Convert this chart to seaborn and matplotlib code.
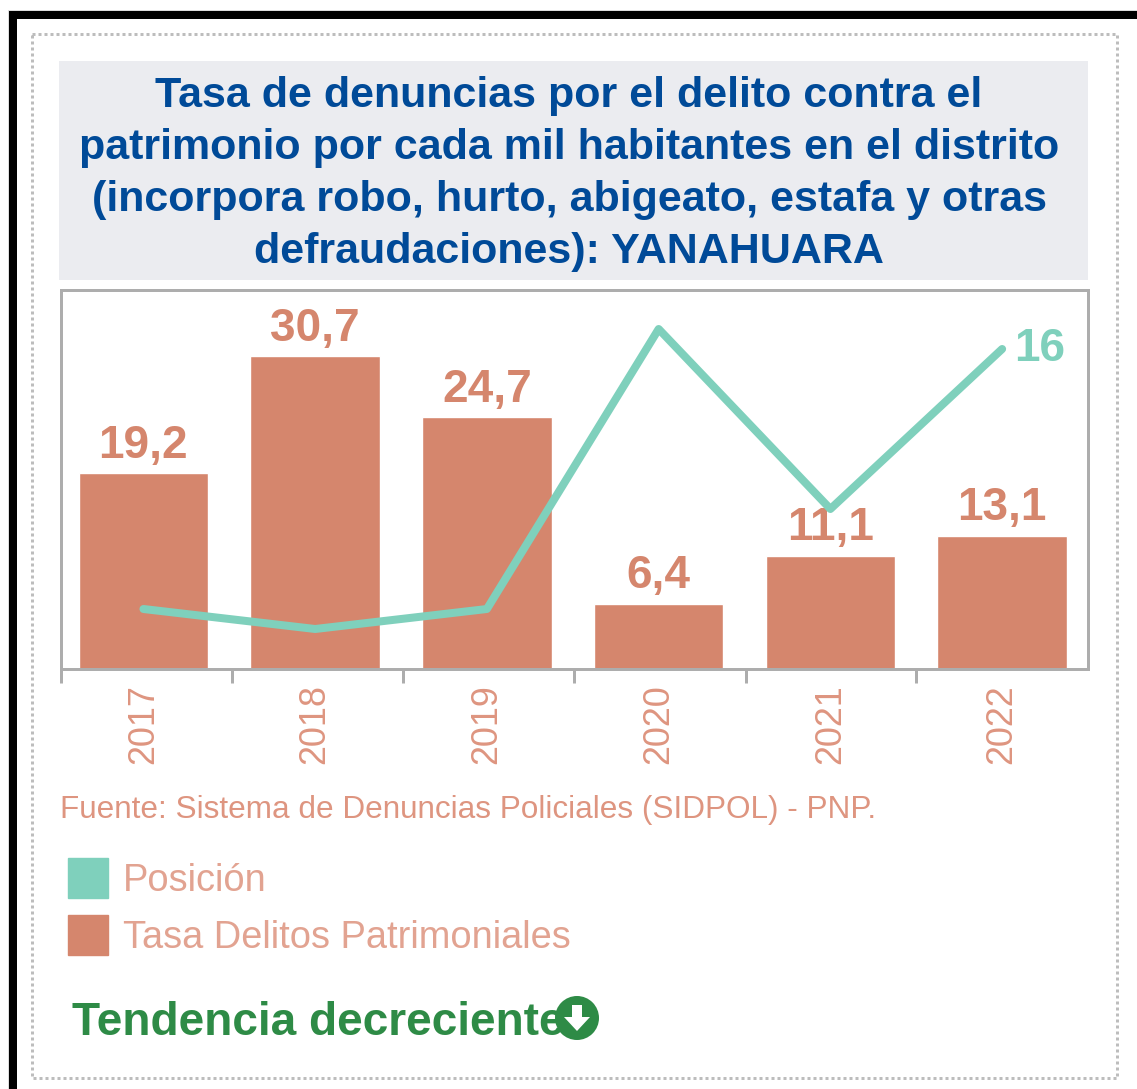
import matplotlib
matplotlib.use('Agg')
import matplotlib.pyplot as plt
from matplotlib.patches import Rectangle, Circle, Patch, Polygon
import seaborn as sns
import pandas as pd
import numpy as np

# Datos
years = ['2017', '2018', '2019', '2020', '2021', '2022']
tasa = [19.2, 30.7, 24.7, 6.4, 11.1, 13.1]
tasa_labels = ['19,2', '30,7', '24,7', '6,4', '11,1', '13,1']
posicion = [3, 2, 3, 17, 8, 16]

title_text = ('Tasa de denuncias por el delito contra el\n'
              'patrimonio por cada mil habitantes en el distrito\n'
              '(incorpora robo, hurto, abigeato, estafa y otras\n'
              'defraudaciones): YANAHUARA')
source_text = 'Fuente: Sistema de Denuncias Policiales (SIDPOL) - PNP.'
trend_text = 'Tendencia decreciente'
legend_labels = ['Posición', 'Tasa Delitos Patrimoniales']

BAR = '#D5866D'
LINE = '#7FD0BC'
LABEL = '#DE9580'
BLUE = '#004A98'
GREEN = '#2E8B46'
GRAY = '#ADADAD'

W, H = 1137, 1089
PX = 0.72  # puntos por pixel con dpi=100

sns.set_style('white')
plt.rcParams['font.family'] = ['Liberation Sans', 'DejaVu Sans']

fig = plt.figure(figsize=(W / 100, H / 100), dpi=100, facecolor='white')

# Capa de fondo en pixeles: marcos, titulo y textos sueltos
bg = fig.add_axes([0, 0, 1, 1], zorder=0)
bg.set_xlim(0, W)
bg.set_ylim(H, 0)
bg.axis('off')
bg.add_patch(Rectangle((8, 10), W, H, fc='none', ec='#DDDDDD', lw=1 * PX))
bg.add_patch(Rectangle((9, 11), 8, H, fc='black', ec='none'))
bg.add_patch(Rectangle((9, 11), W, 8, fc='black', ec='none'))
bg.add_patch(Rectangle((31.5, 33.5), 1085, 1044, fc='none', ec='#BDBDBD',
                       lw=3 * PX, ls=(0, (1, 1))))
bg.add_patch(Rectangle((59, 61), 1029, 219, fc='#EBECF0', ec='none'))
bg.text(569, 174, title_text, ha='center', va='center', color=BLUE,
        fontsize=43 * PX, fontweight='bold', linespacing=1.38)
bg.text(60, 818, source_text, ha='left', va='baseline', color=LABEL,
        fontsize=31.5 * PX)
bg.text(72, 1035, trend_text, ha='left', va='baseline', color=GREEN,
        fontsize=46 * PX, fontweight='bold')
bg.add_patch(Circle((577, 1018), 22, fc=GREEN, ec='none', zorder=3))
bg.add_patch(Polygon([(572, 1005), (582, 1005), (582, 1017), (590, 1017),
                      (577, 1031), (564, 1017), (572, 1017)],
                     fc='white', ec='none', zorder=4))

# Grafico principal
left, right, top, bottom = 61, 1088, 290, 669
ax = fig.add_axes([left / W, 1 - bottom / H, (right - left) / W, (bottom - top) / H],
                  zorder=1)
df = pd.DataFrame({'year': years, 'tasa': tasa, 'posicion': posicion})
sns.barplot(data=df, x='year', y='tasa', color=BAR, saturation=1, width=0.755, ax=ax)
ax.bar_label(ax.containers[0], labels=tasa_labels, padding=4, color=BAR,
             fontsize=46 * PX, fontweight='bold')
ax.set_xlim(-0.48, 5.5)
ax.set_ylim(0, 37.2)
ax.set_xlabel('')
ax.set_ylabel('')
ax.set_yticks([])
ax.set_xticks(range(len(years)), labels=years, rotation=90, color=LABEL,
              fontsize=36 * PX)
ax.set_xticks([-0.48, 0.515, 1.51, 2.51, 3.51, 4.5], minor=True)
ax.tick_params(axis='x', which='major', length=0, pad=15 * PX)
ax.tick_params(axis='x', which='minor', length=14 * PX, width=3 * PX, color=GRAY,
               bottom=True)
for spine in ax.spines.values():
    spine.set_color(GRAY)
    spine.set_linewidth(3 * PX)

# Linea de posicion sobre eje secundario
ax2 = ax.twinx()
sns.lineplot(x=np.arange(len(years)), y=posicion, color=LINE, linewidth=8 * PX,
             ax=ax2, errorbar=None)
ax2.lines[0].set_solid_capstyle('round')
ax2.set_ylim(0, 18.95)
ax2.set_yticks([])
ax2.set_ylabel('')
ax2.set_xlim(-0.48, 5.5)
for spine in ax2.spines.values():
    spine.set_visible(False)
ax2.annotate(str(posicion[-1]), (5, posicion[-1]), xytext=(12 * PX, 0),
             textcoords='offset points', ha='left', va='center', color=LINE,
             fontsize=46 * PX, fontweight='bold')

# Leyenda
handles = [Patch(color=LINE), Patch(color=BAR)]
fig.legend(handles, legend_labels, loc='upper left',
           bbox_to_anchor=(68 / W, 1 - 858 / H), borderaxespad=0, borderpad=0,
           frameon=False, fontsize=38 * PX, labelcolor='#E2A391',
           handlelength=40 / 38, handleheight=1.242, handletextpad=15 / 38,
           labelspacing=0.42)

fig.savefig('out.png', dpi=100, facecolor='white')
